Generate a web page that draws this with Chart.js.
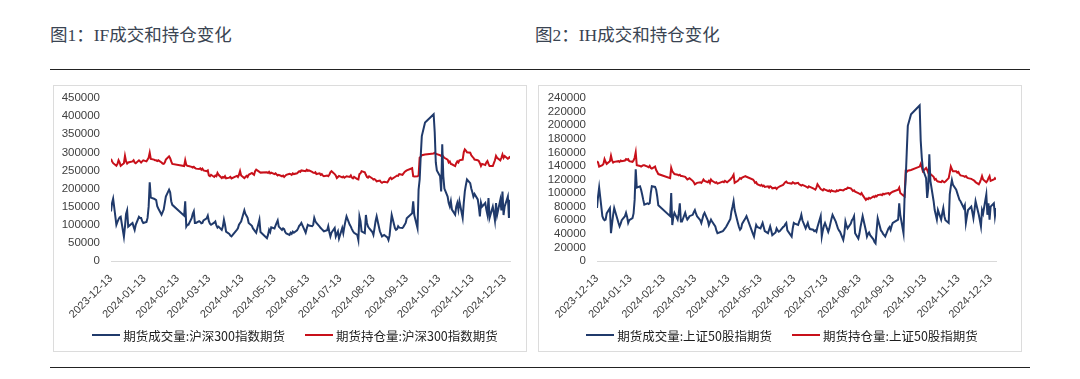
<!DOCTYPE html>
<html>
<head>
<meta charset="utf-8">
<script src="https://cdn.jsdelivr.net/npm/chart.js@4.4.1/dist/chart.umd.min.js"></script>
<style>
  body { margin: 0; background: #fff; width: 1080px; height: 379px; position: relative; overflow: hidden; }
  .title { position: absolute; top: 24px; font: 17.5px "Liberation Serif", "Noto Sans CJK SC", serif; color: #3a4452; line-height: 22px; white-space: nowrap; }
  .rule { position: absolute; left: 50px; width: 980px; height: 0; border-top: 1.5px solid #222; }
  .box { position: absolute; top: 85px; height: 267px; border: 1px solid #dcdcdc; box-sizing: border-box; }
  canvas { position: absolute; top: 85px; }
  .legend { position: absolute; top: 325px; width: 600px; height: 20px; display: flex; justify-content: center; align-items: center; gap: 20px;
    font: 12.5px "Noto Sans CJK SC", sans-serif; color: #1e1e1e; white-space: nowrap; }
  .legend span.item { display: flex; align-items: center; }
  .legend i { display: inline-block; width: 28px; height: 2px; margin-right: 3px; }
</style>
</head>
<body>
<div class="title" style="left:50px">图1：IF成交和持仓变化</div>
<div class="title" style="left:535px">图2：IH成交和持仓变化</div>
<div class="rule" style="top:69px"></div>
<div class="rule" style="top:367px"></div>
<div class="box" style="left:53px;width:474px"></div>
<div class="box" style="left:538px;width:484px"></div>
<canvas id="ifChart" width="474" height="267" style="left:53px"></canvas>
<canvas id="ihChart" width="484" height="267" style="left:538px"></canvas>
<div class="legend" id="ifLegend" style="left:-5px"></div>
<div class="legend" id="ihLegend" style="left:482px"></div>
<script>
// tick labels on the date axis
const tickLabels = ['2023-12-13', '2024-01-13', '2024-02-13', '2024-03-13', '2024-04-13', '2024-05-13', '2024-06-13',
  '2024-07-13', '2024-08-13', '2024-09-13', '2024-10-13', '2024-11-13', '2024-12-13'];
const firstDate = '2023-12-13';
const lastDate = '2024-12-18';
// exchange closed on these weekdays
const holidays = ['2024-01-01', '2024-02-09', '2024-02-12', '2024-02-13', '2024-02-14', '2024-02-15', '2024-02-16',
  '2024-04-04', '2024-04-05', '2024-05-01', '2024-05-02', '2024-05-03', '2024-06-10', '2024-09-16', '2024-09-17',
  '2024-10-01', '2024-10-02', '2024-10-03', '2024-10-04', '2024-10-07'];

// 期货成交量:沪深300指数期货 (one value per trading day, month by month)
const ifVolume = [
  137000, 160000, 172000, 100000, 108000, 115000, 120000, 122000, 67000, 95000, 130000, 140000, 95000,
  105000, 95000, 86000, 100000, 122000, 119000, 119000, 110000, 105000, 108000, 119000, 150000, 217000, 175000, 172000, 170000, 168000, 151000, 145000, 128000, 135000, 142000,
  160000, 178000, 197000, 190000, 165000, 155000, 125000, 165000, 95000, 100000, 100000, 118000, 130000, 137000, 105000,
  105000, 110000, 108000, 104000, 105000, 112000, 118000, 125000, 110000, 103000, 100000, 106000, 109000, 98000, 92000, 95000, 86000, 95000, 114000, 100000, 81000,
  75000, 70000, 68000, 86000, 90000, 100000, 105000, 109000, 140000, 130000, 125000, 119000, 105000, 97000, 90000, 86000, 82000, 78000, 114000, 80000,
  63000, 72000, 86000, 80000, 93000, 90000, 98000, 105000, 112000, 95000, 86000, 90000, 88000, 80000, 76000, 72000, 78000, 75000, 81000, 78000,
  85000, 90000, 97000, 100000, 105000, 78000, 90000, 100000, 98000, 96000, 100000, 119000, 110000, 105000, 95000, 91000, 88000, 85000, 82000,
  85000, 96000, 80000, 68000, 78000, 91000, 68000, 75000, 82000, 62000, 91000, 77000, 95000, 110000, 123000, 100000, 95000, 88000, 82000, 78000, 72000, 58000, 123000,
  110000, 82000, 77000, 127000, 105000, 95000, 91000, 80000, 72000, 90000, 110000, 123000, 82000, 75000, 68000, 70000, 72000, 65000, 58000, 70000, 100000, 127000,
  91000, 86000, 88000, 96000, 92000, 91000, 95000, 100000, 105000, 118000, 132000, 165000, 127000, 91000, 197000, 225000, 290000, 345000, 382000,
  405000, 355000, 272000, 250000, 234000, 192000, 322000, 234000, 200000, 178000, 160000, 151000, 165000, 142000, 128000, 150000, 160000, 142000,
  165000, 119000, 160000, 192000, 210000, 225000, 215000, 200000, 190000, 178000, 185000, 170000, 150000, 123000, 161000, 150000, 160000, 142000, 128000, 174000, 119000,
  150000, 133000, 112000, 160000, 127000, 169000, 140000, 192000, 127000, 150000, 178000, 119000, 169000
];
// 期货持仓量:沪深300指数期货
const ifOpenInterest = [
  282000, 275000, 270000, 263000, 268000, 278000, 272000, 263000, 270000, 290000, 275000, 269000, 272000,
  275000, 278000, 272000, 270000, 278000, 275000, 272000, 275000, 278000, 275000, 280000, 285000, 299000, 282000, 280000, 278000, 278000, 276000, 278000, 272000, 269000, 268000,
  272000, 280000, 289000, 284000, 275000, 268000, 262000, 278000, 265000, 263000, 262000, 260000, 258000, 260000, 257000,
  255000, 254000, 256000, 252000, 255000, 250000, 248000, 250000, 236000, 234000, 238000, 232000, 236000, 234000, 243000, 238000, 229000, 232000, 230000, 234000, 228000,
  230000, 232000, 228000, 235000, 232000, 238000, 248000, 236000, 229000, 232000, 235000, 232000, 238000, 243000, 240000, 238000, 248000, 252000, 246000, 244000,
  245000, 243000, 246000, 242000, 244000, 240000, 242000, 239000, 236000, 238000, 234000, 236000, 232000, 235000, 238000, 241000, 240000, 238000, 242000, 240000,
  242000, 245000, 248000, 246000, 250000, 248000, 252000, 249000, 250000, 246000, 244000, 243000, 245000, 240000, 242000, 238000, 240000, 236000, 234000,
  236000, 234000, 238000, 245000, 248000, 240000, 236000, 229000, 232000, 235000, 231000, 233000, 230000, 232000, 234000, 232000, 236000, 230000, 228000, 232000, 226000, 225000, 240000,
  242000, 248000, 245000, 238000, 232000, 230000, 234000, 228000, 225000, 226000, 224000, 220000, 222000, 218000, 216000, 218000, 219000, 217000, 222000, 228000, 230000, 226000,
  232000, 234000, 236000, 235000, 240000, 238000, 242000, 246000, 248000, 250000, 256000, 234000, 233000, 234000, 236000, 285000, 288000, 292000, 294000,
  297000, 299000, 296000, 295000, 292000, 290000, 292000, 288000, 285000, 280000, 272000, 275000, 268000, 267000, 262000, 270000, 275000, 272000,
  278000, 280000, 300000, 308000, 305000, 300000, 299000, 292000, 288000, 285000, 280000, 278000, 276000, 270000, 262000, 268000, 265000, 272000, 276000, 268000, 262000,
  262000, 270000, 278000, 290000, 285000, 278000, 285000, 294000, 285000, 290000, 282000, 284000, 289000
];
// 期货成交量:上证50股指期货
const ihVolume = [
  78000, 95000, 108000, 66000, 62000, 60000, 61000, 70000, 78000, 41000, 55000, 68000, 78000,
  56000, 51000, 55000, 60000, 66000, 71000, 65000, 56000, 60000, 63000, 70000, 90000, 135000, 108000, 110000, 105000, 98000, 90000, 83000, 85000, 84000, 85000,
  100000, 110000, 109000, 105000, 95000, 82000, 66000, 100000, 53000, 65000, 71000, 61000, 70000, 85000, 58000,
  58000, 71000, 65000, 61000, 63000, 66000, 68000, 72000, 75000, 70000, 66000, 60000, 56000, 62000, 68000, 71000, 60000, 53000, 57000, 61000, 58000,
  51000, 45000, 41000, 44000, 46000, 48000, 50000, 53000, 62000, 73000, 80000, 88000, 75000, 56000, 50000, 46000, 48000, 55000, 63000, 66000,
  40000, 36000, 45000, 53000, 50000, 48000, 52000, 56000, 50000, 44000, 41000, 46000, 51000, 45000, 38000, 42000, 48000, 45000, 43000, 44000,
  50000, 51000, 54000, 56000, 45000, 36000, 48000, 56000, 55000, 53000, 58000, 62000, 68000, 60000, 48000, 52000, 56000, 50000, 47000,
  46000, 44000, 45000, 43000, 50000, 66000, 36000, 45000, 52000, 56000, 43000, 48000, 55000, 62000, 68000, 58000, 53000, 48000, 45000, 43000, 31000, 40000, 58000,
  52000, 48000, 55000, 60000, 62000, 66000, 41000, 33000, 40000, 50000, 58000, 66000, 45000, 36000, 40000, 42000, 38000, 32000, 28000, 26000, 45000, 63000,
  45000, 43000, 40000, 38000, 36000, 48000, 50000, 46000, 52000, 56000, 61000, 85000, 68000, 41000, 95000, 120000, 160000, 199000, 216000,
  229000, 177000, 152000, 135000, 122000, 93000, 107000, 157000, 118000, 88000, 75000, 68000, 61000, 75000, 61000, 70000, 78000, 66000,
  60000, 56000, 98000, 110000, 119000, 112000, 105000, 100000, 95000, 90000, 88000, 78000, 82000, 56000, 66000, 75000, 80000, 72000, 63000, 75000, 88000,
  68000, 60000, 51000, 75000, 70000, 98000, 68000, 85000, 61000, 80000, 85000, 66000, 78000
];
// 期货持仓量:上证50股指期货
const ihOpenInterest = [
  147000, 145000, 139000, 141000, 143000, 150000, 146000, 143000, 147000, 155000, 148000, 145000, 146000,
  147000, 146000, 148000, 147000, 148000, 150000, 149000, 150000, 147000, 146000, 148000, 152000, 160000, 141000, 140000, 139000, 140000, 141000, 141000, 139000, 138000, 140000,
  137000, 136000, 139000, 134000, 131000, 128000, 122000, 137000, 132000, 130000, 128000, 127000, 126000, 127000, 125000,
  125000, 124000, 122000, 120000, 121000, 122000, 118000, 116000, 113000, 114000, 115000, 116000, 115000, 117000, 120000, 118000, 116000, 118000, 115000, 120000, 118000,
  115000, 116000, 114000, 117000, 116000, 118000, 117000, 116000, 120000, 122000, 124000, 127000, 115000, 118000, 120000, 122000, 121000, 123000, 125000, 124000,
  120000, 118000, 115000, 116000, 113000, 111000, 112000, 110000, 111000, 109000, 110000, 108000, 110000, 109000, 107000, 108000, 106000, 108000, 109000, 110000,
  112000, 114000, 116000, 117000, 115000, 114000, 116000, 115000, 114000, 115000, 113000, 112000, 111000, 112000, 110000, 109000, 108000, 110000, 109000,
  107000, 106000, 105000, 108000, 113000, 106000, 105000, 104000, 106000, 105000, 103000, 104000, 102000, 104000, 103000, 102000, 104000, 103000, 104000, 105000, 104000, 105000, 106000,
  106000, 108000, 107000, 105000, 103000, 104000, 102000, 100000, 99000, 98000, 100000, 97000, 90000, 92000, 91000, 93000, 92000, 95000, 94000, 96000, 95000, 97000,
  98000, 97000, 99000, 98000, 99000, 100000, 98000, 100000, 101000, 102000, 105000, 108000, 100000, 96000, 95000, 132000, 131000, 133000, 134000,
  139000, 143000, 138000, 132000, 137000, 134000, 130000, 127000, 128000, 124000, 120000, 121000, 118000, 117000, 116000, 118000, 117000, 116000,
  117000, 122000, 130000, 139000, 135000, 132000, 132000, 130000, 131000, 128000, 126000, 125000, 124000, 125000, 123000, 122000, 121000, 120000, 119000, 118000, 116000,
  113000, 116000, 120000, 125000, 120000, 116000, 118000, 122000, 125000, 118000, 120000, 122000, 120000
];

const BLUE = '#203a6b';
const RED = '#c8101a';
const DAY = 86400000;
const t0 = Date.parse(firstDate + 'T00:00:00Z');

function dayOf(s) {
  return (Date.parse(s + 'T00:00:00Z') - t0) / DAY;
}

// calendar-day position of every trading day
const tradingDays = [];
for (let d = 0; d <= dayOf(lastDate); d++) {
  const date = new Date(t0 + d * DAY);
  const wd = date.getUTCDay();
  const iso = date.toISOString().slice(0, 10);
  if (wd !== 0 && wd !== 6 && !holidays.includes(iso)) tradingDays.push(d);
}
const tickDays = tickLabels.map(dayOf);

function toPoints(values) {
  return values.map((v, i) => ({ x: tradingDays[i], y: v }));
}

function drawChart(id, legendId, vol, oi, names, yMax, yStep, padRight) {
  const tickFont = { family: '"Liberation Sans", Arial, sans-serif', size: 11 };
  const chart = new Chart(document.getElementById(id), {
    type: 'line',
    data: {
      datasets: [
        { label: names[0], data: toPoints(vol), borderColor: BLUE, backgroundColor: BLUE, borderWidth: 2, pointRadius: 0 },
        { label: names[1], data: toPoints(oi), borderColor: RED, backgroundColor: RED, borderWidth: 2, pointRadius: 0 }
      ]
    },
    options: {
      responsive: false,
      animation: false,
      layout: { padding: { left: 0, right: padRight, top: 13, bottom: 21 } },
      scales: {
        x: {
          type: 'linear',
          min: 0,
          max: dayOf(lastDate),
          afterBuildTicks: s => { s.ticks = tickDays.map(v => ({ value: v })); },
          afterFit: s => { s.height = 70; },
          ticks: {
            autoSkip: false, minRotation: 45, maxRotation: 45,
            font: tickFont, color: '#404040',
            callback: v => tickLabels[tickDays.indexOf(v)]
          },
          grid: { display: false },
          border: { color: '#d9d9d9', width: 1 }
        },
        y: {
          min: 0,
          max: yMax,
          afterFit: s => { s.width = id === 'ifChart' ? 58 : 59; },
          ticks: {
            stepSize: yStep, maxTicksLimit: 20, autoSkip: false,
            font: { family: '"Liberation Sans", Arial, sans-serif', size: 11.5 }, color: '#404040',
            callback: v => String(v)
          },
          grid: { display: false },
          border: { display: false }
        }
      },
      plugins: {
        legend: { display: false },
        tooltip: { enabled: false }
      }
    }
  });

  // legend below the chart, built from the datasets
  const legend = document.getElementById(legendId);
  chart.data.datasets.forEach(ds => {
    const item = document.createElement('span');
    item.className = 'item';
    const swatch = document.createElement('i');
    swatch.style.background = ds.borderColor;
    item.appendChild(swatch);
    item.appendChild(document.createTextNode(ds.label));
    legend.appendChild(item);
  });
}

drawChart('ifChart', 'ifLegend', ifVolume, ifOpenInterest, ['期货成交量:沪深300指数期货', '期货持仓量:沪深300指数期货'], 450000, 50000, 17);
drawChart('ihChart', 'ihLegend', ihVolume, ihOpenInterest, ['期货成交量:上证50股指期货', '期货持仓量:上证50股指期货'], 240000, 20000, 26);
</script>
</body>
</html>
